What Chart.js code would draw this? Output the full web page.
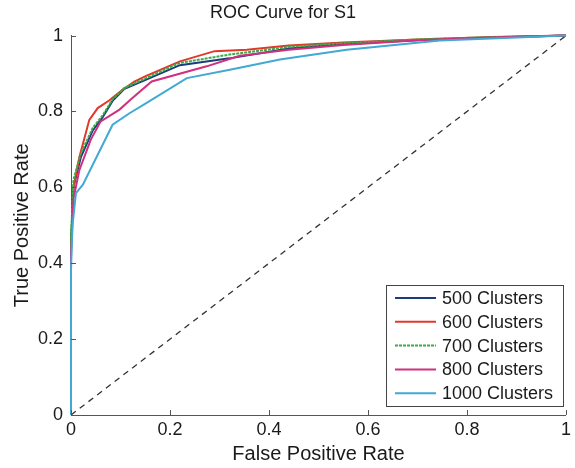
<!DOCTYPE html>
<html lang="en">
<head>
    <meta charset="UTF-8">
    <title>ROC Curve for S1</title>
    <script src="https://cdn.jsdelivr.net/npm/chart.js"></script>
    <style>
        body { margin: 0; background: #fff; }
        #wrap { width: 575px; height: 468px; }
    </style>
</head>
<body>
    <div id="wrap"><canvas id="roc"></canvas></div>

    <script>
        // values
        const seriesNames = ['500 Clusters', '600 Clusters', '700 Clusters', '800 Clusters', '1000 Clusters'];

        const fpr500 = [0, 0, 0.005, 0.02, 0.044, 0.064, 0.084, 0.108, 0.152, 0.22, 0.32, 0.44, 0.55, 0.7, 0.85, 1];
        const tpr500 = [0, 0.45, 0.6, 0.68, 0.75, 0.785, 0.828, 0.86, 0.884, 0.922, 0.94, 0.966, 0.978, 0.988, 0.995, 1];

        const fpr600 = [0, 0, 0.005, 0.017, 0.037, 0.054, 0.077, 0.104, 0.128, 0.152, 0.22, 0.29, 0.355, 0.44, 0.55, 0.7, 0.85, 1];
        const tpr600 = [0, 0.45, 0.6, 0.68, 0.778, 0.809, 0.829, 0.857, 0.879, 0.894, 0.932, 0.959, 0.963, 0.974, 0.982, 0.99, 0.996, 1];

        const fpr700 = [0, 0, 0.005, 0.02, 0.044, 0.064, 0.084, 0.108, 0.152, 0.22, 0.32, 0.44, 0.55, 0.7, 0.85, 1];
        const tpr700 = [0, 0.47, 0.62, 0.69, 0.757, 0.79, 0.832, 0.862, 0.888, 0.928, 0.95, 0.97, 0.98, 0.99, 0.996, 1];

        const fpr800 = [0, 0, 0.005, 0.017, 0.04, 0.06, 0.098, 0.12, 0.163, 0.274, 0.341, 0.44, 0.55, 0.7, 0.85, 1];
        const tpr800 = [0, 0.42, 0.57, 0.646, 0.726, 0.774, 0.805, 0.831, 0.879, 0.919, 0.947, 0.963, 0.975, 0.988, 0.995, 1];

        const fpr1000 = [0, 0, 0.003, 0.01, 0.024, 0.084, 0.119, 0.152, 0.234, 0.321, 0.422, 0.557, 0.745, 0.9, 1];
        const tpr1000 = [0, 0.38, 0.5, 0.585, 0.607, 0.765, 0.796, 0.822, 0.888, 0.91, 0.937, 0.963, 0.987, 0.995, 1];

        const chanceLine = [0, 1];
        const tickValues = [0, 0.2, 0.4, 0.6, 0.8, 1];

        const colors = ['#1d3c80', '#e2382b', '#3ca94a', '#d0307e', '#41a9d2'];
        const dashes = [[], [], [3, 1], [], []];

        function pts(xs, ys) {
            return xs.map((x, i) => ({ x: x, y: ys[i] }));
        }

        const FONT = 'Liberation Sans, Arial, Helvetica, sans-serif';

        // small inward ticks like the original
        const innerTicks = {
            id: 'innerTicks',
            afterDraw(chart) {
                const ctx = chart.ctx;
                const xs = chart.scales.x, ys = chart.scales.y;
                const area = chart.chartArea;
                ctx.save();
                ctx.strokeStyle = '#555';
                ctx.lineWidth = 1;
                ctx.beginPath();
                tickValues.forEach(v => {
                    const px = Math.round(xs.getPixelForValue(v)) + 0.5;
                    ctx.moveTo(px, area.bottom);
                    ctx.lineTo(px, area.bottom - 5);
                    const py = Math.round(ys.getPixelForValue(v)) + 0.5;
                    ctx.moveTo(area.left, py);
                    ctx.lineTo(area.left + 5, py);
                });
                ctx.stroke();
                ctx.restore();
            }
        };

        // boxed legend inside the plot, lower right
        const boxLegend = {
            id: 'boxLegend',
            afterDraw(chart) {
                const ctx = chart.ctx;
                const left = 386, top = 285, right = 563, bottom = 406;
                ctx.save();
                ctx.fillStyle = '#fff';
                ctx.fillRect(left, top, right - left, bottom - top);
                ctx.strokeStyle = '#444';
                ctx.lineWidth = 1;
                ctx.strokeRect(left + 0.5, top + 0.5, right - left, bottom - top);
                ctx.font = '18px ' + FONT;
                ctx.textBaseline = 'middle';
                ctx.fillStyle = '#1a1a1a';
                seriesNames.forEach((name, i) => {
                    const y = 298 + i * 23.8;
                    ctx.strokeStyle = colors[i];
                    ctx.lineWidth = 2;
                    ctx.setLineDash(dashes[i]);
                    ctx.beginPath();
                    ctx.moveTo(395, y);
                    ctx.lineTo(436, y);
                    ctx.stroke();
                    ctx.setLineDash([]);
                    ctx.fillText(name, 442, y + 1);
                });
                ctx.restore();
            }
        };

        const lists = [[fpr500, tpr500], [fpr600, tpr600], [fpr700, tpr700], [fpr800, tpr800], [fpr1000, tpr1000]];
        const datasets = lists.map((l, i) => ({
            label: seriesNames[i],
            data: pts(l[0], l[1]),
            borderColor: colors[i],
            borderWidth: 2,
            borderDash: dashes[i],
            pointRadius: 0,
            tension: 0,
            clip: 3,
            order: 4 - i,   // later series on top, as in the original
            fill: false
        }));
        datasets.push({
            label: 'chance',
            data: pts(chanceLine, chanceLine),
            borderColor: '#333',
            borderWidth: 1.3,
            borderDash: [6, 5],
            pointRadius: 0,
            order: 5,
            fill: false
        });

        const ctx = document.getElementById('roc').getContext('2d');
        const rocChart = new Chart(ctx, {
            type: 'line',
            data: { datasets: datasets },
            options: {
                responsive: true,
                maintainAspectRatio: false,
                animation: false,
                layout: { padding: { left: 0, right: 9, top: 0, bottom: 0 } },
                plugins: {
                    legend: { display: false },
                    tooltip: { enabled: false },
                    title: {
                        display: true,
                        text: 'ROC Curve for S1',
                        color: '#1a1a1a',
                        font: { family: FONT, size: 18, weight: 'normal' },
                        padding: { top: 2, bottom: 12 }
                    }
                },
                scales: {
                    x: {
                        type: 'linear',
                        min: 0,
                        max: 1,
                        afterBuildTicks: s => { s.ticks = tickValues.map(v => ({ value: v })); },
                        afterFit: s => { s.height = 53; },
                        ticks: {
                            color: '#1a1a1a',
                            padding: 4,
                            maxRotation: 0,
                            font: { family: FONT, size: 18 },
                            callback: v => String(v)
                        },
                        grid: { display: false, drawTicks: false },
                        border: { display: true, color: '#555' },
                        title: {
                            display: true,
                            text: 'False Positive Rate',
                            color: '#1a1a1a',
                            font: { family: FONT, size: 20 },
                            padding: { top: 0, bottom: 2 }
                        }
                    },
                    y: {
                        type: 'linear',
                        min: 0,
                        max: 1,
                        afterBuildTicks: s => { s.ticks = tickValues.map(v => ({ value: v })); },
                        afterFit: s => { s.width = 71; },
                        ticks: {
                            color: '#1a1a1a',
                            padding: 8,
                            font: { family: FONT, size: 18 },
                            callback: v => String(v)
                        },
                        grid: { display: false, drawTicks: false },
                        border: { display: true, color: '#555' },
                        title: {
                            display: true,
                            text: 'True Positive Rate',
                            color: '#1a1a1a',
                            font: { family: FONT, size: 20 },
                            padding: { top: 10, bottom: 0 }
                        }
                    }
                }
            },
            plugins: [innerTicks, boxLegend]
        });
    </script>
</body>
</html>
